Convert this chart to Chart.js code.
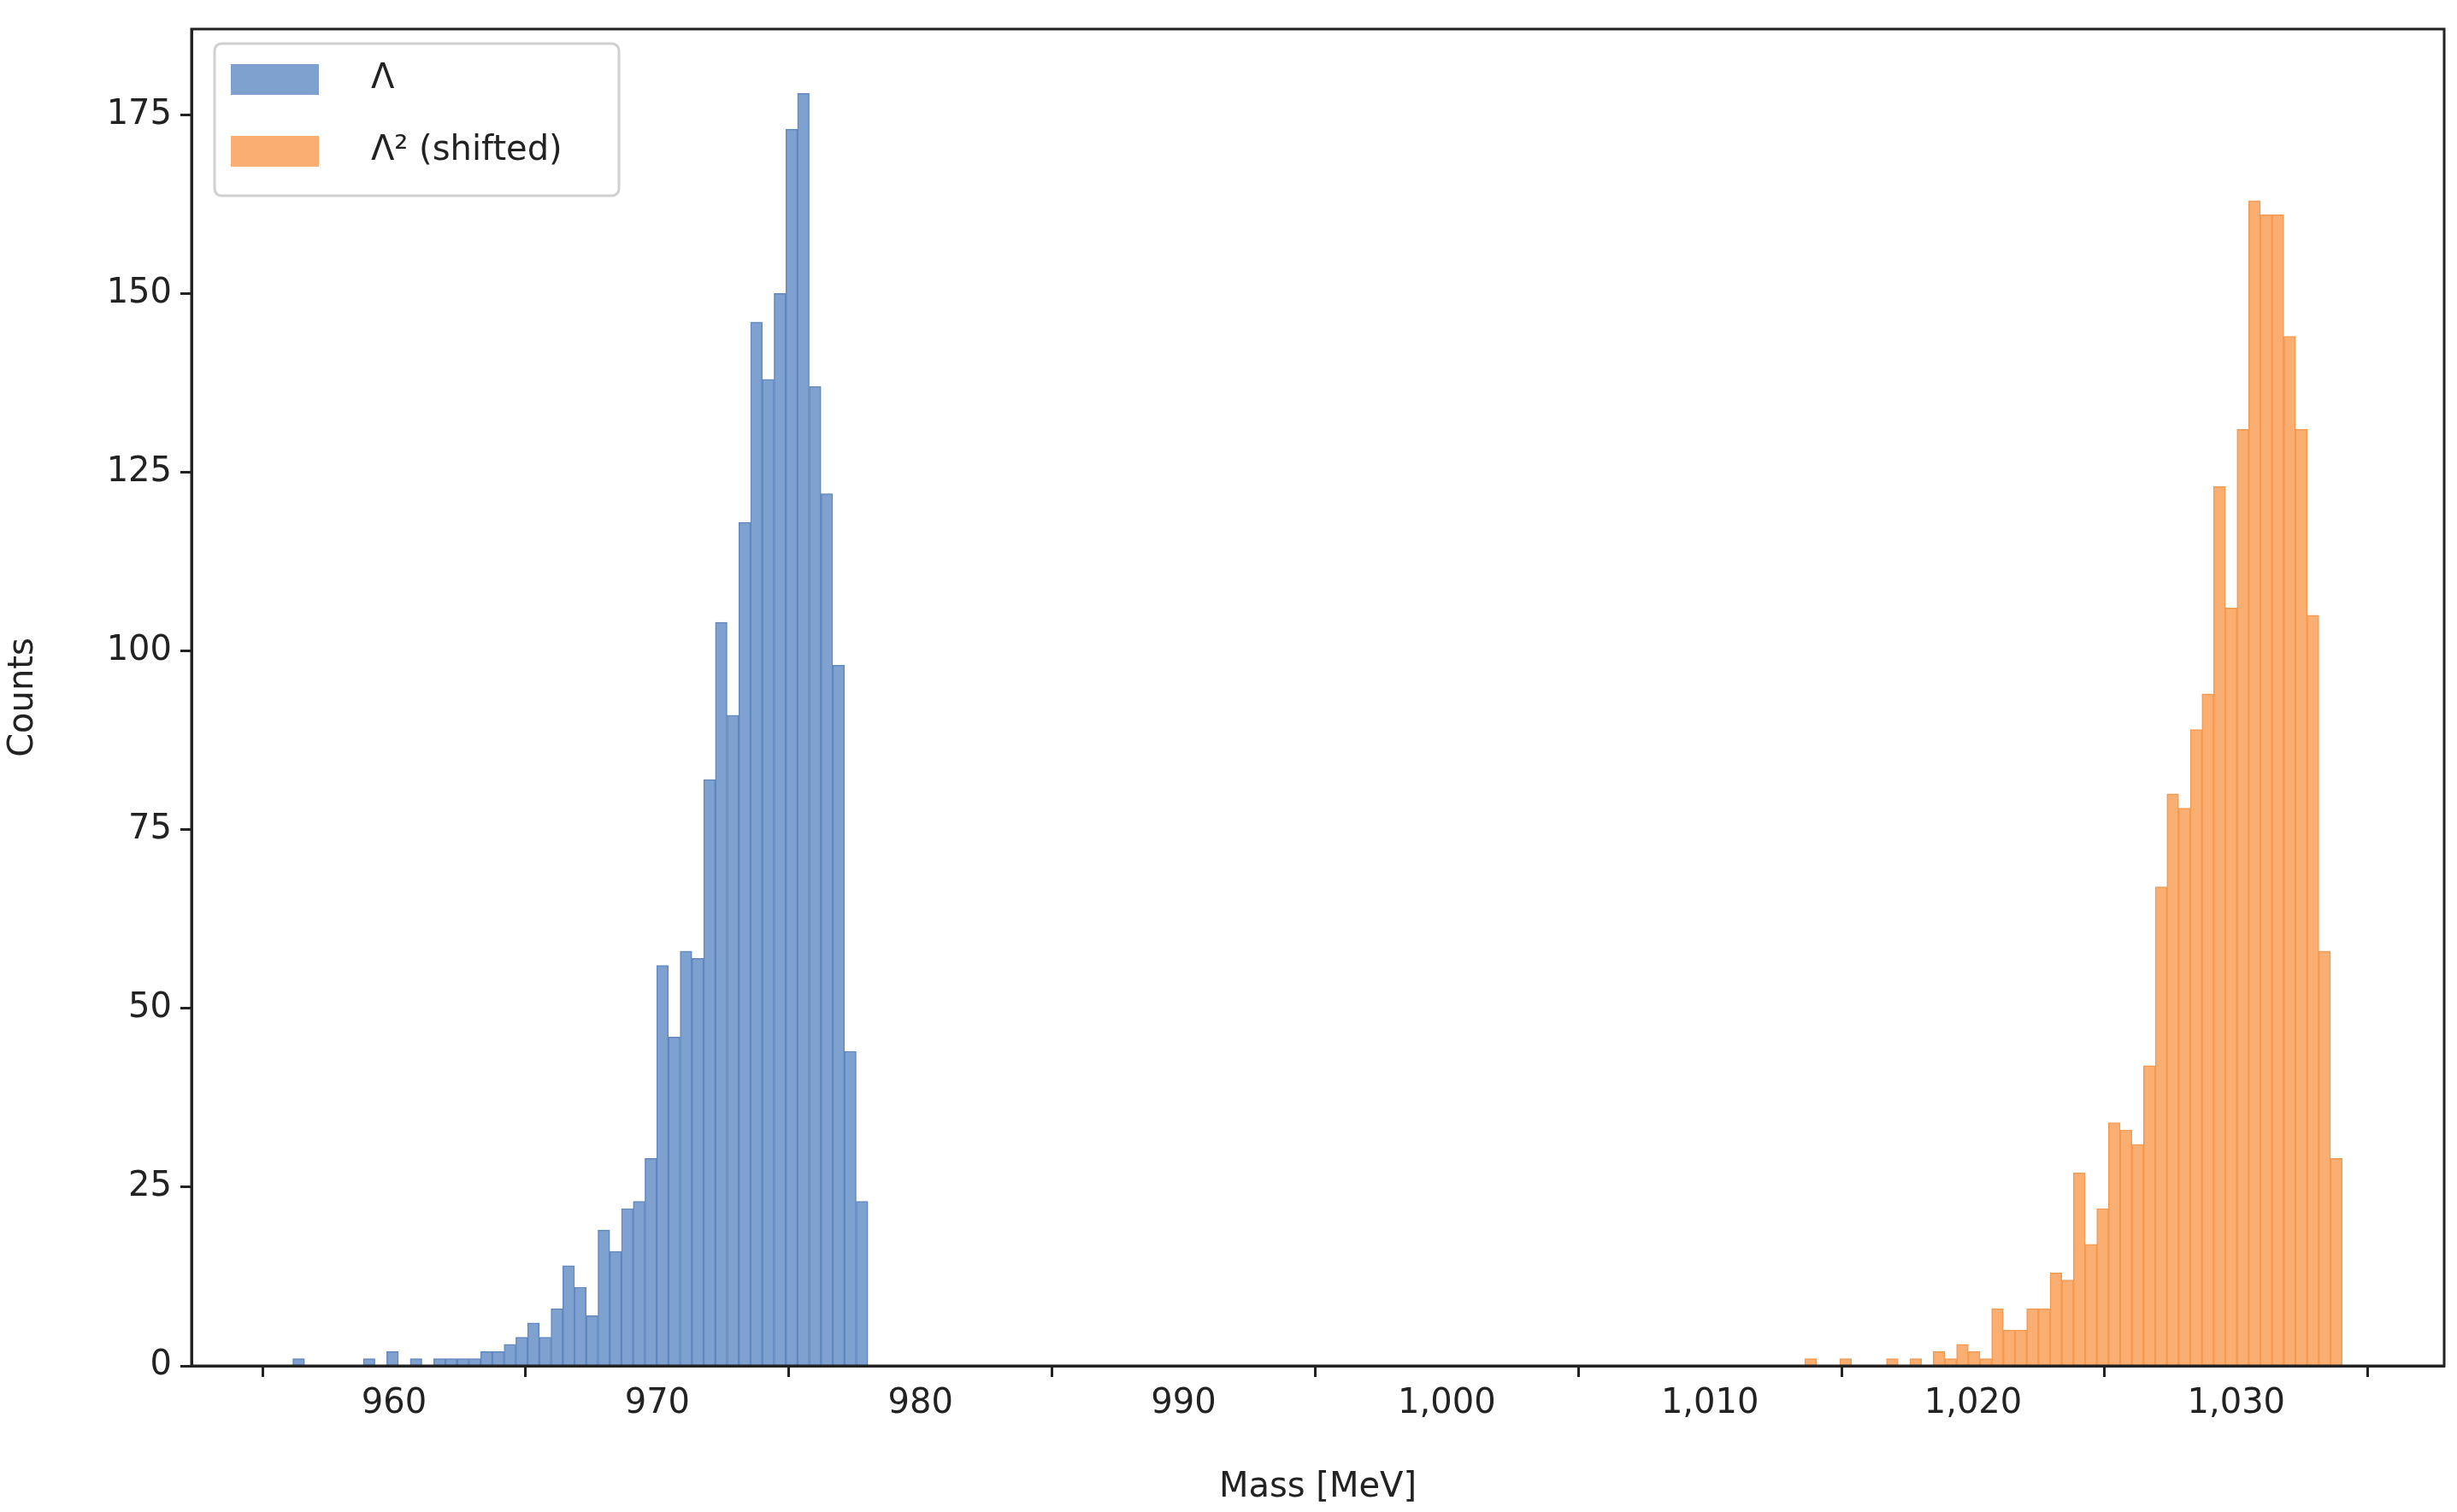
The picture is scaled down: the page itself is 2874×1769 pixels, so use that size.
<!DOCTYPE html>
<html><head><meta charset="utf-8">
<script src="https://cdn.jsdelivr.net/npm/chart.js@4"></script>
<style>html,body{margin:0;padding:0;background:#fff}#wrap{width:2874px;height:1769px}</style>
</head><body><div id="wrap"><canvas id="c"></canvas></div>
<script>
const lambdaStart = 956.15, lambdaBinWidth = 0.446;
const lambdaCounts = [1,0,0,0,0,0,1,0,2,0,1,0,1,1,1,1,2,2,3,4,6,4,8,14,11,7,19,16,22,23,29,56,46,58,57,82,104,91,118,146,138,150,173,178,137,122,98,44,23];
const lambda2Start = 1013.6, lambda2BinWidth = 0.444;
const lambda2Counts = [1,0,0,1,0,0,0,1,0,1,0,2,1,3,2,1,8,5,5,8,8,13,12,27,17,22,34,33,31,42,67,80,78,89,94,123,106,131,163,161,161,144,131,105,58,29];
const xTicks = [960,970,980,990,1000,1010,1020,1030];
const yTicks = [0,25,50,75,100,125,150,175];
const legendLabels = ['Λ','Λ² (shifted)'];

function toPoints(start,w,counts){return counts.map((c,i)=>({x:start+w*(i+0.5),y:c}));}
const FONT='DejaVu Sans';
const frame={id:'frame',afterDraw(ch){const a=ch.chartArea,x=ch.ctx;x.save();x.strokeStyle='#222';x.lineWidth=3;x.strokeRect(a.left,a.top,a.right-a.left,a.bottom-a.top);
 // legend
 const L=251,T=51,W=473,H=178;x.fillStyle='rgba(255,255,255,0.8)';x.strokeStyle='#d0d0d0';x.lineWidth=3;x.beginPath();x.roundRect(L,T,W,H,8);x.fill();x.stroke();
 const cols=['#7fa1cf','#fbae72'];x.font='40px '+FONT;x.textBaseline='middle';x.fillStyle='#222';
 legendLabels.forEach((t,i)=>{const cy=T+42+i*84;x.fillStyle=cols[i];x.fillRect(L+19,cy-18,103,36);x.fillStyle='#222';x.fillText(t,L+183-L+L+0,cy);});
 x.restore();}};
new Chart(document.getElementById('c'),{
 type:'bar',
 data:{datasets:[
  {label:legendLabels[0],data:toPoints(lambdaStart,lambdaBinWidth,lambdaCounts),backgroundColor:'#7fa1cf',borderColor:'#5f87c0',borderWidth:1.5,borderSkipped:'bottom'},
  {label:legendLabels[1],data:toPoints(lambda2Start,lambda2BinWidth,lambda2Counts),backgroundColor:'#fbae72',borderColor:'#f5994f',borderWidth:1.5,borderSkipped:'bottom'}]},
 options:{responsive:true,maintainAspectRatio:false,animation:false,devicePixelRatio:1,
  grouped:false,barPercentage:1,categoryPercentage:1,
  layout:{padding:{left:0,top:26,right:15,bottom:0}},
  plugins:{legend:{display:false},tooltip:{enabled:false}},
  scales:{
   x:{type:'linear',min:952.3,max:1037.9,offset:false,
    afterBuildTicks(s){s.ticks=xTicks.map(v=>({value:v}));},
    afterFit(s){s.height=171;},
    grid:{drawOnChartArea:false,drawTicks:true,tickLength:13,tickWidth:3,color:'#222'},
    border:{display:true,width:3,color:'#222'},
    ticks:{font:{family:FONT,size:40},color:'#222',padding:8,maxRotation:0,autoSkip:false},
    title:{display:true,text:'Mass [MeV]',font:{family:FONT,size:40},color:'#222',padding:{top:4}}},
   y:{min:0,max:187,
    afterBuildTicks(s){s.ticks=yTicks.map(v=>({value:v}));},
    afterFit(s){s.width=224;},
    grid:{drawOnChartArea:false,drawTicks:true,tickLength:13,tickWidth:3,color:'#222'},
    border:{display:true,width:3,color:'#222'},
    ticks:{font:{family:FONT,size:40},color:'#222',padding:10},
    title:{display:true,text:'Counts',font:{family:FONT,size:40},color:'#222',padding:{bottom:8}}}
  }},
 plugins:[frame]});
</script></body></html>
